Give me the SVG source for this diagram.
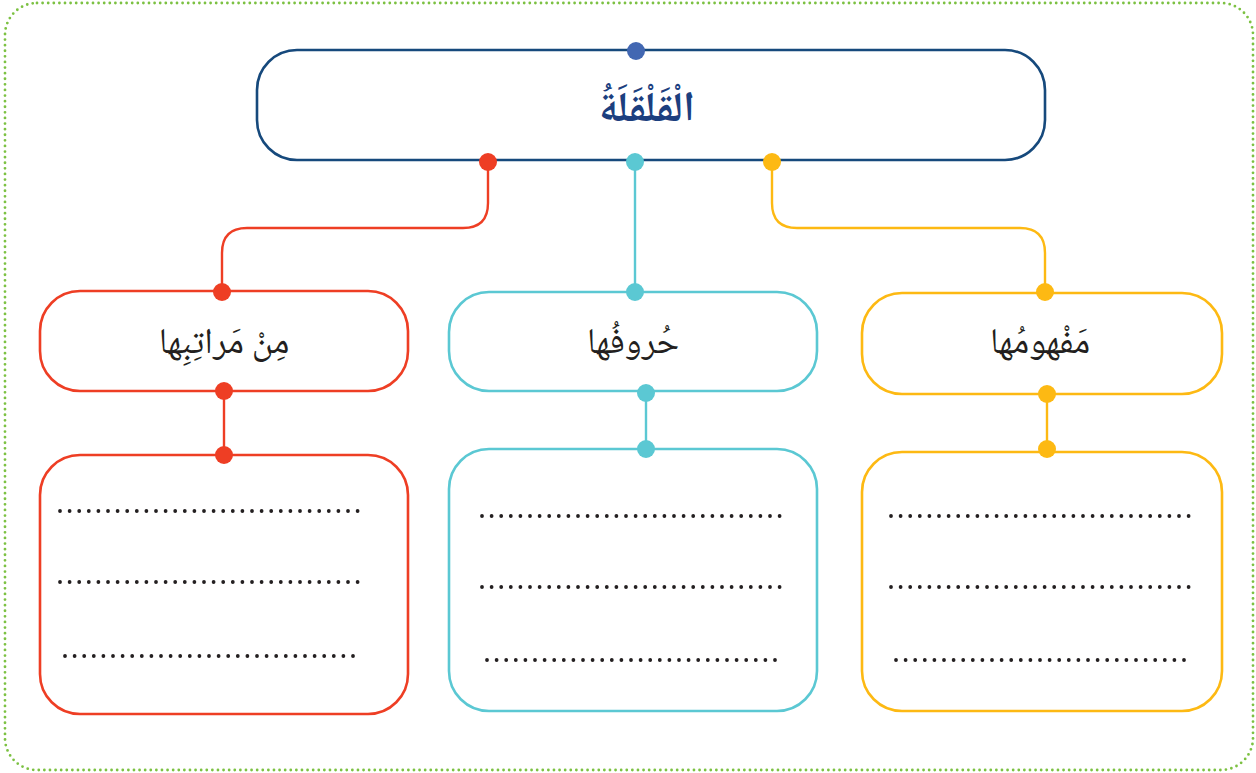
<svg xmlns="http://www.w3.org/2000/svg" width="1256" height="773" viewBox="0 0 1256 773">
<style>
.border{fill:none;stroke:#7cc142;stroke-width:2.8;stroke-dasharray:0 5.6;stroke-linecap:round}
.box{fill:#fff;stroke-width:2.6}
.red{stroke:#ee3e24}.teal{stroke:#5bc8d3}.yel{stroke:#fdb913}.navy{stroke:#16497c}
.conn{fill:none;stroke-width:2.4}
.dr{fill:#ee3e24}.dt{fill:#5bc8d3}.dy{fill:#fdb913}.db{fill:#4267b2}
.lbl{font-family:"Noto Naskh Arabic","Noto Sans Arabic","DejaVu Sans",sans-serif;font-size:36px;fill:#231f20;text-anchor:middle;direction:rtl}
.title{font-family:"Noto Naskh Arabic","Noto Sans Arabic","DejaVu Sans",sans-serif;font-size:42px;font-weight:bold;fill:#1c3f7f;text-anchor:middle;direction:rtl}
.dots{fill:none;stroke:#231f20;stroke-width:3.8;stroke-linecap:round;stroke-dasharray:0 9.6}
</style>
<rect class="border" x="5" y="3" width="1248" height="767" rx="32" ry="32"/>
<g id="connectors">
<path class="conn red" d="M488,163 V203 Q488,228 463,228 H247 Q222,228 222,253 V292"/>
<path class="conn teal" d="M635,163 V292"/>
<path class="conn yel" d="M772,163 V203 Q772,228 797,228 H1020 Q1045,228 1045,253 V292"/>
<path class="conn red" d="M224,391 V455"/>
<path class="conn teal" d="M646,394 V449"/>
<path class="conn yel" d="M1047,394 V449"/>
</g>
<g id="title">
<rect class="box navy" x="257" y="50" width="788" height="110" rx="40"/>
<text class="title" x="647" y="121">الْقَلْقَلَةُ</text>
<circle class="db" cx="636" cy="51" r="9"/>
<circle class="dr" cx="488" cy="162" r="9"/>
<circle class="dt" cx="635" cy="162" r="9"/>
<circle class="dy" cx="772" cy="162" r="9"/>
</g>
<g id="n-maratib">
<rect class="box red" x="40" y="291" width="368" height="100" rx="40"/>
<text class="lbl" x="224" y="353">مِنْ مَراتِبِها</text>
<circle class="dr" cx="222" cy="292" r="9"/>
<circle class="dr" cx="224" cy="391" r="9"/>
</g>
<g id="n-huruf">
<rect class="box teal" x="449" y="292" width="368" height="99" rx="40"/>
<text class="lbl" x="633" y="353">حُروفُها</text>
<circle class="dt" cx="635" cy="292" r="9"/>
<circle class="dt" cx="646" cy="393" r="9"/>
</g>
<g id="n-mafhum">
<rect class="box yel" x="862" y="293" width="360" height="101" rx="40"/>
<text class="lbl" x="1040" y="353">مَفْهومُها</text>
<circle class="dy" cx="1045" cy="292" r="9"/>
<circle class="dy" cx="1047" cy="394" r="9"/>
</g>
<g id="a-maratib">
<rect class="box red" x="40" y="455" width="368" height="259" rx="40"/>
<circle class="dr" cx="224" cy="455" r="9"/>
<path class="dots" d="M60,511 H364 M60,582 H364 M65,656 H359"/>
</g>
<g id="a-huruf">
<rect class="box teal" x="449" y="449" width="368" height="262" rx="40"/>
<circle class="dt" cx="646" cy="449" r="9"/>
<path class="dots" d="M482,516 H786 M482,587 H786 M487,660 H781"/>
</g>
<g id="a-mafhum">
<rect class="box yel" x="862" y="452" width="360" height="259" rx="40"/>
<circle class="dy" cx="1047" cy="449" r="9"/>
<path class="dots" d="M891,516 H1195 M891,587 H1195 M896,660 H1190"/>
</g>
</svg>
